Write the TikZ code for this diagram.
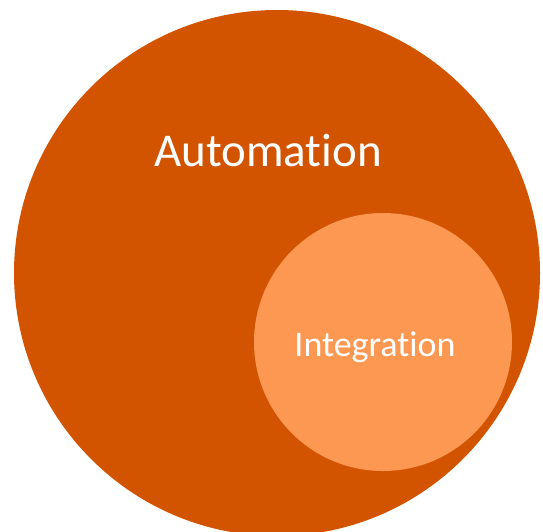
\documentclass[tikz,border=0pt]{standalone}
\usepackage{fontspec}
\setmainfont[Ligatures=NoCommon]{Carlito}
\usetikzlibrary{positioning}

\definecolor{darkorange}{RGB}{211,84,0}
\definecolor{lightorange}{RGB}{253,152,83}

\tikzset{
	setcircle/.style={circle,inner sep=0pt,draw=none},
	setlabel/.style={text=white,inner sep=0pt}
}

\begin{document}
\begin{tikzpicture}[x=1pt,y=-1pt]
	\useasboundingbox (0,0) rectangle (543,531);
	\clip (0,0) rectangle (543,531);

	% outer set and the subset inside it
	\node[setcircle,fill=darkorange,minimum size=526pt] (automation) at (277,273) {};
	\node[setcircle,fill=lightorange,minimum size=258pt] (integration) at (383,342) {};

	\node[setlabel,font=\fontsize{47}{56}\selectfont] (automationlabel) at (268,150) {Automation};
	\node[setlabel,font=\fontsize{36}{43}\selectfont] (integrationlabel) at (375,347) {Integration};
\end{tikzpicture}
\end{document}
